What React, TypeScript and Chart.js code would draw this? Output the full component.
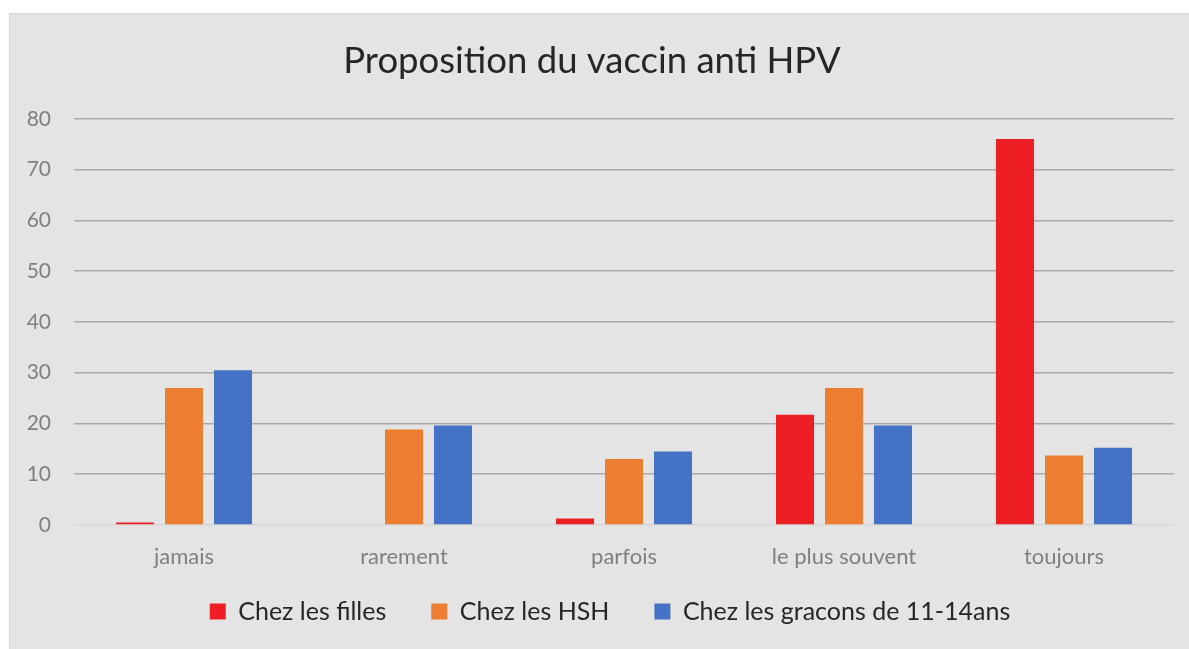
import { useEffect, useRef } from 'react';
import { Chart, registerables } from 'chart.js';

Chart.register(...registerables);

const categories = ['jamais', 'rarement', 'parfois', 'le plus souvent', 'toujours'];
const seriesNames = ['Chez les filles', 'Chez les HSH', 'Chez les gracons de 11-14ans'];
const filles = [0.5, 0, 1.3, 21.7, 76];
const hsh = [27, 18.8, 13, 27, 13.7];
const garcons = [30.5, 19.6, 14.5, 19.6, 15.2];
const seriesColors = ['#ee1f24', '#ed7d31', '#4472c4'];
const yMin = 0;
const yMax = 80;
const yStep = 10;
const title = 'Proposition du vaccin anti HPV';

const FONT = 'Lato';

const legendShift = {
  id: 'legendShift',
  afterLayout(chart: any) {
    const l = chart.legend;
    if (!l) return;
    l.left += 18;
    l.right += 18;
    l.top -= 15;
    l.bottom -= 15;
  },
};

export default function App() {
  const ref = useRef<HTMLCanvasElement>(null);

  useEffect(() => {
    document.body.style.margin = '0';
    const canvas = ref.current;
    if (!canvas) return;
    const chart = new Chart(canvas, {
      type: 'bar',
      data: {
        labels: categories,
        datasets: [filles, hsh, garcons].map((d, i) => ({
          label: seriesNames[i],
          data: d,
          backgroundColor: seriesColors[i],
          borderWidth: 0,
          categoryPercentage: 0.668,
          barPercentage: 0.776,
        })),
      },
      plugins: [legendShift],
      options: {
        responsive: false,
        animation: false,
        layout: { padding: { left: 0, right: 15, top: 0, bottom: 0 } },
        plugins: {
          title: {
            display: true,
            text: title,
            color: '#262626',
            font: { family: FONT, size: 36.5, weight: 'normal' },
            padding: { top: 25, bottom: 36 },
          },
          legend: {
            position: 'bottom',
            labels: {
              boxWidth: 16,
              boxHeight: 16,
              padding: 45,
              color: '#262626',
              font: { family: FONT, size: 25 },
            },
          },
          tooltip: { enabled: false },
        },
        scales: {
          x: {
            grid: { display: false, drawTicks: false },
            border: { display: false },
            ticks: {
              color: '#7f7f7f',
              font: { family: FONT, size: 22 },
              padding: 19,
              maxRotation: 0,
            },
            afterFit: (scale: any) => {
              scale.height = 44;
            },
          },
          y: {
            min: yMin,
            max: yMax,
            ticks: {
              stepSize: yStep,
              color: '#7f7f7f',
              font: { family: FONT, size: 21 },
              padding: 23,
            },
            grid: {
              drawTicks: false,
              lineWidth: 1.5,
              color: (ctx: any) => (ctx.tick && ctx.tick.value === 0 ? '#d6d6d6' : '#a9a9a9'),
            },
            border: { display: false },
            afterFit: (scale: any) => {
              scale.width = 64;
            },
          },
        },
      },
    });
    return () => chart.destroy();
  }, []);

  return (
    <div style={{ position: 'relative', width: 1189, height: 649, background: '#ffffff', overflow: 'hidden' }}>
      <div
        style={{
          position: 'absolute',
          left: 9,
          top: 13,
          width: 1180,
          height: 636,
          background: '#e3e4e3',
          borderTop: '1px solid #d6d6d6',
          borderLeft: '1px solid #d6d6d6',
          boxSizing: 'border-box',
        }}
      >
        <canvas ref={ref} width={1179} height={635} style={{ display: 'block' }} />
      </div>
    </div>
  );
}
